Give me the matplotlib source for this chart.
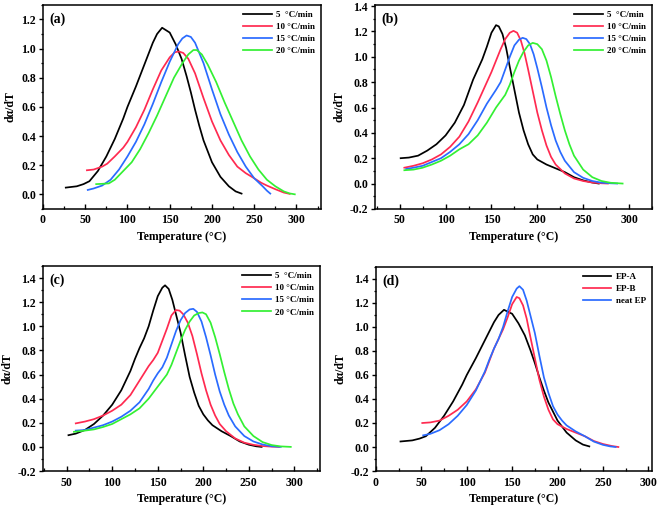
import matplotlib
matplotlib.use("Agg")
import matplotlib.pyplot as plt
from matplotlib.ticker import AutoMinorLocator
import numpy as np

plt.rcParams['font.family'] = ['Liberation Serif', 'DejaVu Serif']
plt.rcParams['font.weight'] = 'bold'

# ---------------- data ----------------
# Panel (a)
a5_T = [27, 40, 48, 55, 65, 75, 85, 95, 100, 110, 120, 130, 135, 141, 150, 157, 164, 170, 175, 180, 185, 190, 200, 210, 220, 228, 235]
a5_y = [0.046, 0.055, 0.07, 0.09, 0.16, 0.26, 0.38, 0.52, 0.60, 0.74, 0.89, 1.04, 1.10, 1.143, 1.11, 1.03, 0.93, 0.81, 0.70, 0.58, 0.47, 0.37, 0.22, 0.12, 0.055, 0.02, 0.005]
a10_T = [52, 60, 70, 76, 85, 95, 100, 110, 120, 130, 140, 150, 156, 161, 166, 172, 180, 190, 200, 210, 220, 230, 240, 250, 258, 265, 275, 285, 292]
a10_y = [0.165, 0.17, 0.19, 0.21, 0.26, 0.32, 0.36, 0.46, 0.58, 0.72, 0.85, 0.94, 0.975, 0.98, 0.97, 0.93, 0.83, 0.66, 0.50, 0.37, 0.27, 0.19, 0.145, 0.11, 0.08, 0.06, 0.035, 0.012, 0.003]
a15_T = [53, 60, 70, 80, 90, 100, 110, 120, 130, 140, 150, 160, 165, 170, 175, 180, 190, 200, 210, 220, 230, 240, 250, 260, 265, 269]
a15_y = [0.03, 0.04, 0.06, 0.10, 0.17, 0.26, 0.36, 0.48, 0.62, 0.77, 0.91, 1.03, 1.07, 1.09, 1.08, 1.04, 0.90, 0.72, 0.55, 0.41, 0.29, 0.19, 0.11, 0.055, 0.025, 0.005]
a20_T = [63, 70, 78, 85, 95, 100, 105, 115, 125, 135, 145, 155, 165, 172, 178, 182, 188, 195, 205, 215, 225, 235, 245, 255, 265, 275, 285, 292, 298]
a20_y = [0.07, 0.072, 0.075, 0.10, 0.16, 0.19, 0.22, 0.31, 0.42, 0.54, 0.67, 0.80, 0.90, 0.96, 0.99, 0.99, 0.96, 0.89, 0.77, 0.63, 0.50, 0.37, 0.26, 0.17, 0.10, 0.055, 0.02, 0.006, 0.0]

# Panel (b)
b5_T = [51, 60, 70, 80, 90, 100, 110, 120, 125, 130, 135, 140, 145, 150, 155, 158, 162, 166, 170, 175, 180, 185, 190, 195, 200, 210, 220, 230, 240, 250, 260, 267]
b5_y = [0.20, 0.205, 0.22, 0.26, 0.31, 0.38, 0.48, 0.62, 0.72, 0.82, 0.90, 0.98, 1.08, 1.19, 1.25, 1.24, 1.18, 1.07, 0.92, 0.74, 0.56, 0.42, 0.31, 0.23, 0.19, 0.15, 0.12, 0.09, 0.05, 0.025, 0.008, 0.0]
b10_T = [55, 65, 75, 85, 95, 105, 115, 125, 135, 145, 150, 155, 160, 165, 170, 174, 178, 182, 186, 190, 195, 200, 205, 210, 215, 220, 230, 240, 250, 260, 270, 277]
b10_y = [0.125, 0.14, 0.16, 0.19, 0.23, 0.29, 0.37, 0.49, 0.64, 0.80, 0.88, 0.97, 1.06, 1.14, 1.19, 1.205, 1.19, 1.13, 1.03, 0.90, 0.73, 0.56, 0.42, 0.30, 0.21, 0.15, 0.08, 0.04, 0.02, 0.008, 0.002, 0.0]
b15_T = [57, 65, 75, 85, 95, 105, 115, 125, 135, 145, 155, 160, 165, 170, 175, 180, 184, 188, 192, 196, 200, 205, 210, 215, 220, 225, 230, 240, 250, 260, 270, 280, 287]
b15_y = [0.115, 0.125, 0.14, 0.17, 0.20, 0.25, 0.31, 0.39, 0.50, 0.63, 0.74, 0.80, 0.90, 1.00, 1.09, 1.135, 1.15, 1.14, 1.10, 1.02, 0.91, 0.76, 0.60, 0.46, 0.34, 0.25, 0.18, 0.09, 0.045, 0.02, 0.007, 0.002, 0.0]
b20_T = [55, 65, 75, 85, 95, 105, 115, 125, 135, 145, 155, 165, 170, 175, 180, 185, 190, 195, 200, 205, 210, 215, 220, 225, 230, 235, 240, 250, 260, 270, 280, 293]
b20_y = [0.105, 0.11, 0.125, 0.15, 0.18, 0.22, 0.27, 0.31, 0.38, 0.48, 0.60, 0.70, 0.78, 0.88, 0.97, 1.04, 1.09, 1.11, 1.10, 1.06, 0.97, 0.84, 0.69, 0.55, 0.42, 0.31, 0.22, 0.11, 0.05, 0.02, 0.006, 0.0]

# Panel (c)
c5_T = [52, 60, 70, 80, 90, 100, 110, 120, 125, 130, 135, 140, 145, 150, 155, 158, 162, 166, 170, 175, 180, 185, 190, 195, 200, 205, 210, 220, 230, 240, 250, 258, 264]
c5_y = [0.097, 0.11, 0.14, 0.19, 0.26, 0.35, 0.47, 0.63, 0.73, 0.82, 0.90, 1.00, 1.13, 1.25, 1.32, 1.34, 1.31, 1.22, 1.10, 0.95, 0.76, 0.58, 0.45, 0.34, 0.27, 0.22, 0.18, 0.13, 0.09, 0.045, 0.018, 0.005, 0.0]
c10_T = [60, 70, 80, 90, 100, 110, 120, 130, 140, 145, 150, 155, 160, 165, 170, 174, 178, 183, 188, 193, 198, 203, 208, 213, 218, 225, 235, 245, 255, 265, 275, 283]
c10_y = [0.195, 0.21, 0.23, 0.26, 0.30, 0.35, 0.43, 0.55, 0.67, 0.72, 0.78, 0.88, 0.98, 1.09, 1.135, 1.13, 1.10, 1.03, 0.92, 0.77, 0.61, 0.47, 0.35, 0.26, 0.19, 0.13, 0.07, 0.035, 0.017, 0.007, 0.002, 0.0]
c15_T = [60, 70, 80, 90, 100, 110, 120, 130, 140, 145, 150, 155, 160, 165, 170, 175, 180, 185, 189, 193, 198, 203, 208, 213, 218, 223, 228, 235, 245, 255, 265, 275, 285]
c15_y = [0.135, 0.14, 0.16, 0.18, 0.21, 0.25, 0.30, 0.37, 0.48, 0.55, 0.61, 0.66, 0.74, 0.85, 0.96, 1.05, 1.11, 1.14, 1.145, 1.12, 1.04, 0.91, 0.76, 0.60, 0.46, 0.35, 0.26, 0.17, 0.09, 0.045, 0.02, 0.005, 0.0]
c20_T = [58, 70, 80, 90, 100, 110, 120, 130, 140, 150, 160, 165, 170, 175, 180, 185, 190, 195, 199, 203, 208, 213, 218, 223, 228, 233, 238, 245, 255, 265, 275, 285, 296]
c20_y = [0.125, 0.135, 0.145, 0.165, 0.19, 0.23, 0.27, 0.32, 0.40, 0.50, 0.60, 0.68, 0.78, 0.88, 0.97, 1.04, 1.09, 1.11, 1.115, 1.10, 1.03, 0.91, 0.77, 0.62, 0.48, 0.36, 0.27, 0.17, 0.09, 0.04, 0.015, 0.004, 0.0]

rate_labels = ["5  \u00b0C/min", "10 \u00b0C/min", "15 \u00b0C/min", "20 \u00b0C/min"]
sample_labels = ["EP-A", "EP-B", "neat EP"]
colors = ["#000000", "#ff2a50", "#2a6bff", "#33f033"]

panels = [
    dict(tag="(a)", rect=[0.065, 0.588, 0.4206, 0.4024], xlim=(0, 329), ylim=(-0.1, 1.3), ybot=0.0, ytop=1.2,
         xticks=[0, 50, 100, 150, 200, 250, 300],
         series=[(a5_T, a5_y), (a10_T, a10_y), (a15_T, a15_y), (a20_T, a20_y)], labels=rate_labels, cols=colors),
    dict(tag="(b)", rect=[0.5673, 0.588, 0.419, 0.4024], xlim=(23, 325), ylim=(-0.2, 1.41), ybot=-0.2, ytop=1.4,
         xticks=[50, 100, 150, 200, 250, 300],
         series=[(b5_T, b5_y), (b10_T, b10_y), (b15_T, b15_y), (b20_T, b20_y)], labels=rate_labels, cols=colors),
    dict(tag="(c)", rect=[0.065, 0.071, 0.419, 0.4043], xlim=(24, 328), ylim=(-0.2, 1.5), ybot=-0.2, ytop=1.4,
         xticks=[50, 100, 150, 200, 250, 300],
         series=[(c5_T, c5_y), (c10_T, c10_y), (c15_T, c15_y), (c20_T, c20_y)], labels=rate_labels, cols=colors),
    dict(tag="(d)", rect=[0.5688, 0.071, 0.4175, 0.4024], xlim=(0, 304), ylim=(-0.2, 1.5), ybot=-0.2, ytop=1.4,
         xticks=[0, 50, 100, 150, 200, 250, 300],
         series=[(a5_T, a5_y), (b5_T, b5_y), (c5_T, c5_y)], labels=sample_labels, cols=colors[:3]),
]

fig = plt.figure(figsize=(6.61, 5.07), dpi=100)

for p in panels:
    ax = fig.add_axes(p["rect"])
    for (T, y), lab, col in zip(p["series"], p["labels"], p["cols"]):
        ax.plot(T, y, color=col, lw=1.25, label=lab, solid_joinstyle='round')
    ax.set_xlim(*p["xlim"])
    ax.set_ylim(*p["ylim"])
    ax.set_xticks(p["xticks"])
    yt = np.round(np.arange(p["ybot"], p["ytop"] + 0.01, 0.2), 1)
    ax.set_yticks(yt)
    ax.set_yticklabels([f"{t:.1f}" for t in yt])
    ax.xaxis.set_minor_locator(AutoMinorLocator(2))
    ax.yaxis.set_minor_locator(AutoMinorLocator(2))
    ax.tick_params(axis='x', which='major', direction='in', length=3.5, width=1.0, labelsize=8.5, pad=4)
    ax.tick_params(axis='x', which='minor', direction='in', length=2, width=0.9)
    ax.tick_params(axis='y', which='major', direction='out', length=3, width=1.0, labelsize=8.5, pad=2)
    ax.tick_params(axis='y', which='minor', direction='out', length=1.5, width=0.9)
    ax.tick_params(top=False, right=False)
    for lbl in ax.get_xticklabels() + ax.get_yticklabels():
        lbl.set_fontweight('bold')
    for s in ax.spines.values():
        s.set_linewidth(1.1)
    ax.set_xlabel("Temperature (\u00b0C)", fontsize=8.5, fontweight='bold', labelpad=3.5)
    ax.set_ylabel("d\u03b1/dT", fontsize=8.5, fontweight='bold', labelpad=3)
    ax.text(0.022, 0.962, p["tag"], transform=ax.transAxes, fontsize=10, fontweight='bold', va='top', ha='left')
    leg = ax.legend(loc='upper right', frameon=False, fontsize=6.5, handlelength=3.2,
                    handletextpad=0.5, labelspacing=0.42, borderaxespad=0.25)
    for t in leg.get_texts():
        t.set_fontweight('bold')

fig.savefig("out.png", dpi=100)
